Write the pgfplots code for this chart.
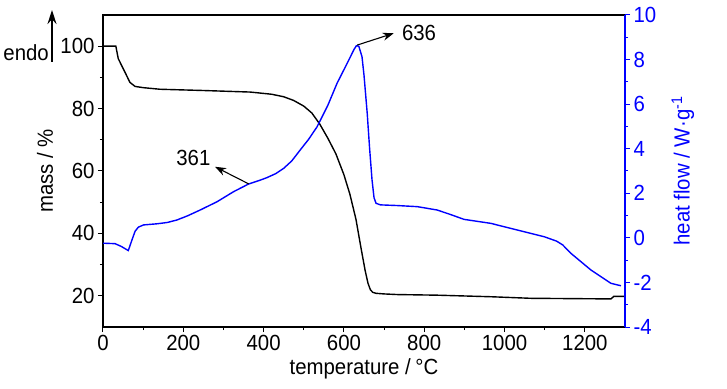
\documentclass[border=0pt]{standalone}
\usepackage{fontspec}
\setmainfont{Liberation Sans}[FakeStretch=0.93]
\usepackage{pgfplots}
\pgfplotsset{compat=1.18}
\usetikzlibrary{arrows.meta}
\definecolor{hfblue}{RGB}{0,0,255}

\pgfplotstableread{
T mass
0 100
32 100
38 96
55 91.6
67 88.4
80 87.1
101 86.7
142 86.2
250 85.8
367 85.3
420 84.6
450 83.8
475 82.6
500 80.8
520 78.6
540 75.0
560 70.5
580 65.5
600 58.8
615 52.5
630 44.5
643 35
653 28
660 24
666 21.9
672 21.1
680 20.8
700 20.6
733 20.4
832 20.2
966 19.7
1065 19.2
1265 19.0
1272 19.8
1300 19.8
}\massdata

\pgfplotstableread{
T hf
0 -0.24
30 -0.26
45 -0.38
63 -0.57
72 -0.1
80 0.3
88 0.48
101 0.58
134 0.63
160 0.69
184 0.8
212 1.0
242 1.25
284 1.62
325 2.07
363 2.42
390 2.58
408 2.7
430 2.88
450 3.12
470 3.45
491 3.94
512 4.42
533 4.98
560 5.95
583 6.94
610 7.9
625 8.45
631 8.62
637 8.6
645 8.13
650 7.3
658 5.59
664 4.0
670 2.6
675 1.8
680 1.55
691 1.48
733 1.45
783 1.4
832 1.25
865 1.05
899 0.83
966 0.65
1032 0.35
1099 0.05
1130 -0.15
1145 -0.32
1165 -0.69
1215 -1.44
1265 -2.04
1290 -2.15
}\hfdata

\begin{document}
\begin{tikzpicture}[font=\fontsize{22}{26}\selectfont]
\path[use as bounding box] (-103bp,-62bp) rectangle (624bp,327bp);
\pgfplotsset{
  every axis/.append style={
    scale only axis, width=522bp, height=312bp,
    xmin=0, xmax=1300,
    tick align=outside,
    major tick length=5bp, minor tick length=3bp,
    /pgf/number format/assume math mode=true,
    /pgf/number format/set thousands separator={},
    every tick/.style={line width=1bp},
    at={(0,0)}, anchor=south west,
  }
}
\begin{axis}[
  ymin=10, ymax=110,
  ytick={20,40,...,100}, minor y tick num=1,
  xtick={0,200,...,1200}, minor x tick num=1,
  xtick pos=lower, ytick pos=left,
  axis line style={line width=1.3bp},
  xlabel={temperature / \kern-0.05em°C},
  ylabel={mass / \%},
  xlabel style={at={(axis description cs:0.5,-0.135)}, anchor=center},
  ylabel style={at={(axis description cs:-0.111,0.5)}, anchor=center},
]
\addplot[black, line width=1.4bp] table[x=T, y=mass] {\massdata};
\end{axis}
\begin{axis}[
  ymin=-4, ymax=10,
  ytick={-4,-2,...,10}, minor y tick num=1,
  axis x line=none, axis y line*=right,
  y axis line style={hfblue, line width=1.6bp},
  every y tick/.style={hfblue, line width=1bp},
  yticklabel style={text=hfblue},
  ylabel={heat flow / W·g\textsuperscript{-1}},
  ylabel style={hfblue, at={(axis description cs:1.111,0.5)}, anchor=center},
]
\addplot[hfblue, line width=1.4bp] table[x=T, y=hf] {\hfdata};
\draw[-{Stealth[length=11bp,width=8bp]}, line width=1.1bp] (axis cs:363,2.42) -- (axis cs:279,3.19);
\node at (axis cs:225,3.57) {361};
\draw[-{Stealth[length=11bp,width=8bp]}, line width=1.1bp] (axis cs:633,8.65) -- (axis cs:724,9.18);
\node at (axis cs:787,9.18) {636};
\end{axis}
\node[inner sep=0pt, anchor=east] at (-54bp,274bp) {endo};
\draw[-{Stealth[length=14bp,width=9bp]}, line width=1.3bp] (-51bp,265bp) -- (-51bp,317bp);
\end{tikzpicture}
\end{document}
